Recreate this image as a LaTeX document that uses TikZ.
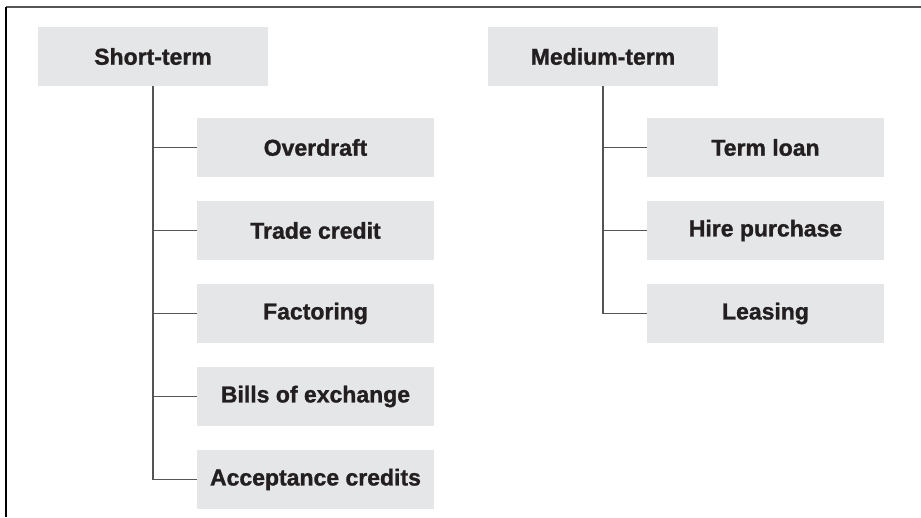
\documentclass[tikz,border=0pt]{standalone}
\usepackage{fontspec}
\setmainfont{Liberation Sans}
\newfontfamily\lourde{Liberation Sans Bold}[FakeBold=1.2]
\usepackage{color}
\definecolor{fondgris}{RGB}{229,230,232}
\definecolor{traitgris}{RGB}{85,85,85}
\definecolor{encre}{RGB}{35,31,32}
\tikzset{boite/.style={fill=fondgris,minimum height=59pt,inner sep=0pt,text=encre,font=\fontsize{23}{27}\lourde\bfseries},
	parent/.style={boite,minimum width=230pt},
	enfant/.style={boite,minimum width=237pt},
	lien/.style={traitgris,line width=1.3pt}}

\begin{document}
\begin{tikzpicture}[x=1pt,y=-1pt]
%					Cadre :
					\useasboundingbox (0,0) rectangle (921,517);
					\draw[traitgris,line width=1.4pt] (6,7) -- (921,7);
					\draw[black,line width=1.6pt] (6,7) -- (6,517);
%					Boites du court terme :
					\node[parent] (short) at (153,56.5) {Short-term};
					\node[enfant] (overdraft) at (315.5,147.5) {Overdraft};
					\node[enfant] (trade) at (315.5,230.5) {Trade credit};
					\node[enfant] (factoring) at (315.5,313.5) {Factoring};
					\node[enfant] (bills) at (315.5,396.5) {Bills of exchange};
					\node[enfant] (acceptance) at (315.5,479.5) {Acceptance credits};
%					Boites du moyen terme :
					\node[parent] (medium) at (603,56.5) {Medium-term};
					\node[enfant] (termloan) at (765.5,147.5) {Term loan};
					\node[enfant] (hire) at (765.5,230.5) {Hire purchase};
					\node[enfant] (leasing) at (765.5,313.5) {Leasing};
%					Traits de liaison :
					\draw[lien] (short.south) |- (acceptance.west);
					\foreach \n in {overdraft,trade,factoring,bills}
						\draw[lien] (short.south |- \n.west) -- (\n.west);
					\draw[lien] (medium.south) |- (leasing.west);
					\foreach \n in {termloan,hire}
						\draw[lien] (medium.south |- \n.west) -- (\n.west);
				\end{tikzpicture}
\end{document}
